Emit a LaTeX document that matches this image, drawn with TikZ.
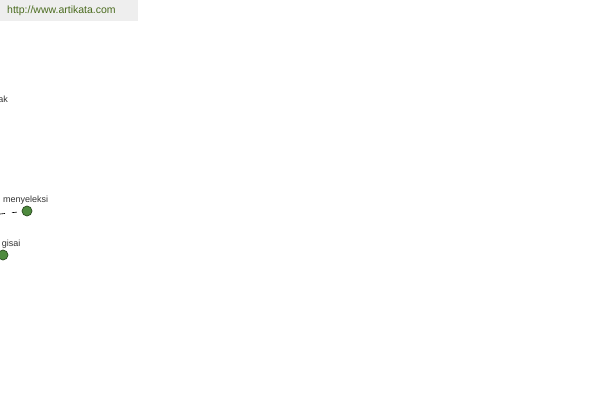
\documentclass[tikz,border=0pt]{standalone}
\usepackage{fontspec}
\setmainfont{Liberation Sans}
\definecolor{bargray}{HTML}{EEEEEE}
\definecolor{urlgreen}{HTML}{4A6B1E}
\definecolor{labelgray}{HTML}{333333}
\definecolor{dotfill}{HTML}{4E8A3E}
\definecolor{dotedge}{HTML}{2B4A20}
\begin{document}
\begin{tikzpicture}[x=1pt,y=-1pt,
  lbl/.style={inner sep=0pt,text=labelgray,font=\fontsize{9}{10}\selectfont},
  dot/.style={circle,fill=dotfill,draw=dotedge,line width=0.7pt,minimum size=10pt,inner sep=0pt},
  link/.style={draw=black,line width=0.6pt,dash pattern=on 5pt off 7pt}]
\useasboundingbox (0,0) rectangle (600,400);
\fill[bargray] (0,0) rectangle (138,21);
\node[anchor=west,inner sep=0pt,text=urlgreen,font=\fontsize{10.5}{12}\selectfont] (url) at (7,11) {http://www.artikata.com};
\node[lbl,anchor=east] (ak) at (8,99) {ak};
\node[lbl,anchor=west] (sel) at (3,200) {menyeleksi};
\node[dot] (d1) at (27,211) {};
\coordinate (c0) at (0,214);
\draw[link] (c0) -- (d1);
\node[lbl,anchor=east] (gis) at (20.5,244) {gisai};
\node[dot] (d2) at (3,255) {};
\end{tikzpicture}
\end{document}
